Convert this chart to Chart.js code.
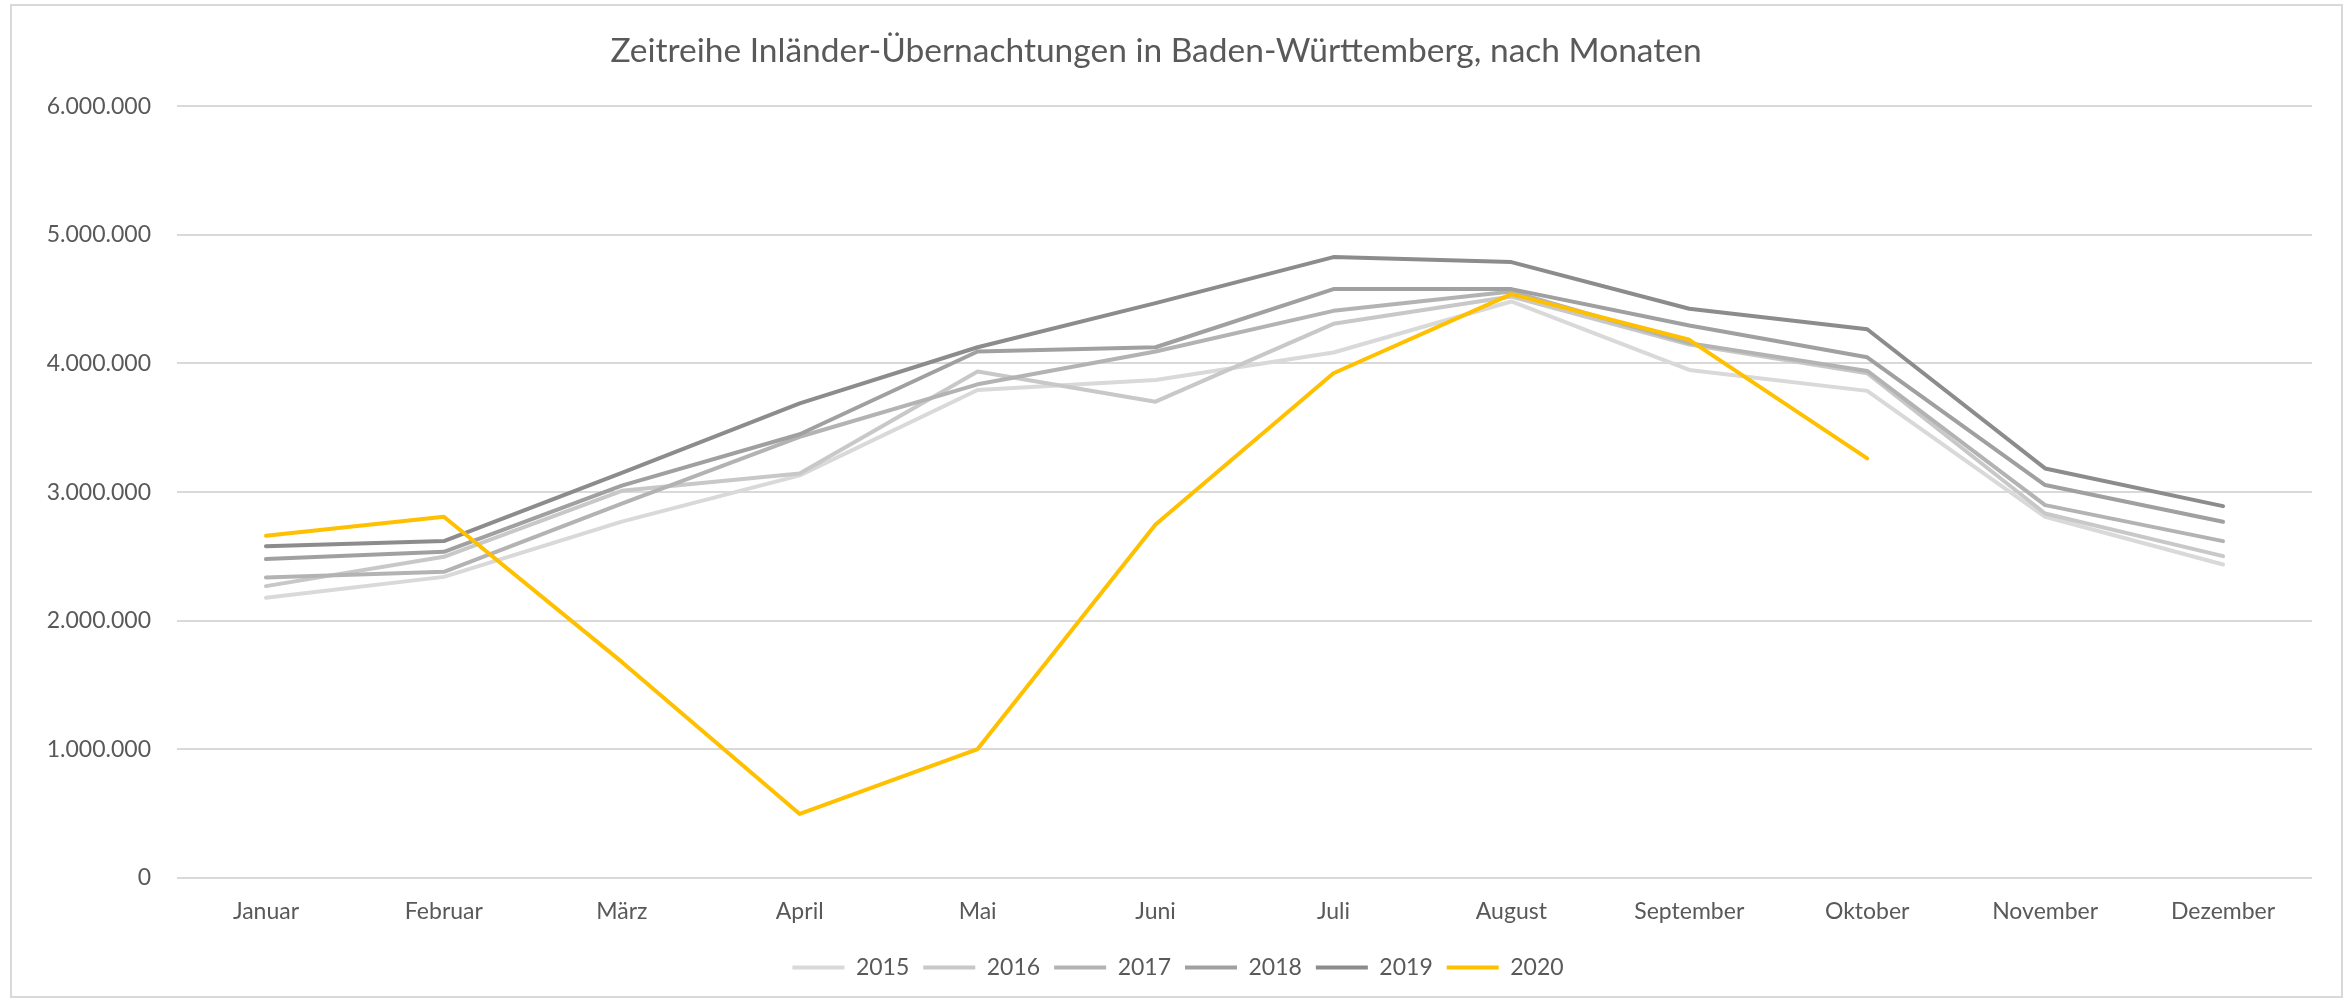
<!DOCTYPE html>
<html>
<head>
<meta charset="utf-8">
<script src="https://cdn.jsdelivr.net/npm/chart.js@4"></script>
<style>
  html, body { margin: 0; padding: 0; background: #fff; }
  #wrap { width: 2351px; height: 1001px; position: relative; }
</style>
</head>
<body>
<div id="wrap"><canvas id="chart"></canvas></div>
<script>
const months = ['Januar', 'Februar', 'März', 'April', 'Mai', 'Juni', 'Juli', 'August', 'September', 'Oktober', 'November', 'Dezember']
const years = ['2015', '2016', '2017', '2018', '2019', '2020']

const v2015 = [2178000, 2341000, 2770000, 3130000, 3794000, 3872000, 4085000, 4482000, 3950000, 3787000, 2808000, 2437000]
const v2016 = [2269000, 2497000, 3010000, 3145000, 3937000, 3703000, 4308000, 4520000, 4147000, 3924000, 2834000, 2502000]
const v2017 = [2336000, 2380000, 2910000, 3430000, 3838000, 4093000, 4409000, 4560000, 4158000, 3942000, 2899000, 2619000]
const v2018 = [2479000, 2536000, 3050000, 3450000, 4093000, 4126000, 4578000, 4578000, 4295000, 4048000, 3055000, 2769000]
const v2019 = [2580000, 2619000, 3150000, 3690000, 4126000, 4469000, 4827000, 4788000, 4425000, 4266000, 3184000, 2891000]
const v2020 = [2660000, 2808000, 1680000, 498000, 1002000, 2748000, 3924000, 4539000, 4184000, 3262000, null, null]

const series = [v2015, v2016, v2017, v2018, v2019, v2020]
const colors = ['#d9d9d9', '#c8c8c8', '#b3b3b3', '#a0a0a0', '#8c8c8c', '#ffc000']

const FONT = 'Lato, "Open Sans", sans-serif'
const TEXT = '#595959'

// format 6000000 -> 6.000.000
function deNumber(v) {
    return String(Math.round(v)).replace(/\B(?=(\d{3})+(?!\d))/g, '.')
}

const frame = {
    id: 'frame',
    afterLayout(chart) {
        // legend sits a little right of centre in the original
        chart.legend.left += 22
        chart.legend.right += 22
    },
    afterDraw(chart) {
        const ctx = chart.ctx
        ctx.save()
        ctx.strokeStyle = '#d9d9d9'
        ctx.lineWidth = 2
        ctx.strokeRect(11, 5, 2331, 992)
        ctx.restore()
    },
}

const datasets = years.map((year, i) => ({
    label: year,
    data: series[i],
    borderColor: colors[i],
    backgroundColor: colors[i],
    borderWidth: 4,
    borderCapStyle: 'round',
    borderJoinStyle: 'round',
    pointRadius: 0,
    pointHoverRadius: 0,
    tension: 0,
    spanGaps: false,
    order: years.length - i,
}))

new Chart(document.getElementById('chart'), {
    type: 'line',
    data: { labels: months, datasets },
    plugins: [frame],
    options: {
        responsive: true,
        maintainAspectRatio: false,
        animation: false,
        layout: { padding: { top: 0, right: 39, bottom: 12, left: 0 } },
        plugins: {
            title: {
                display: true,
                text: 'Zeitreihe Inländer-Übernachtungen in Baden-Württemberg, nach Monaten',
                color: TEXT,
                font: { family: FONT, size: 33.5, weight: 'normal' },
                padding: { top: 31, bottom: 35 },
            },
            legend: {
                position: 'bottom',
                labels: {
                    color: TEXT,
                    font: { family: FONT, size: 23 },
                    usePointStyle: true,
                    pointStyle: 'line',
                    pointStyleWidth: 52,
                    padding: 14,
                    sort: (a, b) => a.datasetIndex - b.datasetIndex,
                },
            },
            tooltip: { enabled: false },
        },
        scales: {
            x: {
                offset: true,
                afterFit(scale) { scale.height = 64 },
                grid: { display: false, offset: true },
                border: { display: false },
                ticks: {
                    color: TEXT,
                    font: { family: FONT, size: 23 },
                    padding: 12,
                    maxRotation: 0,
                    autoSkip: false,
                },
            },
            y: {
                min: 0,
                max: 6000000,
                afterFit(scale) { scale.width = 177 },
                grid: { color: '#d9d9d9', lineWidth: 2, drawTicks: false },
                border: { display: false },
                ticks: {
                    stepSize: 1000000,
                    color: TEXT,
                    font: { family: FONT, size: 23 },
                    padding: 26,
                    callback: (v) => deNumber(v),
                },
            },
        },
    },
})
</script>
</body>
</html>
